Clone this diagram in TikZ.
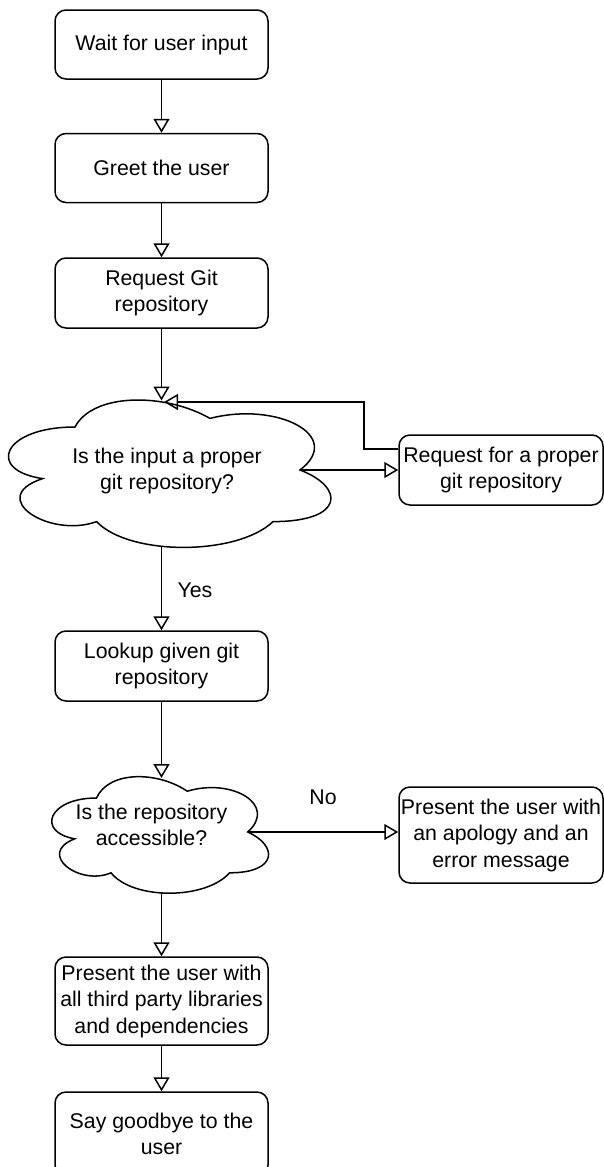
\documentclass[tikz,border=0pt]{standalone}
\usepackage{fontspec}
\setmainfont{Liberation Sans}
\usetikzlibrary{arrows.meta}

% mxGraph-style cloud outline: #1,#2 = top-left corner, #3 = width, #4 = height
\newcommand\cloudoutline[4]{%
  \draw[cloudline]
    ({#1+0.25*#3},{#2+0.25*#4})
    .. controls ({#1+0.05*#3},{#2+0.25*#4}) and ({#1},{#2+0.5*#4}) .. ({#1+0.16*#3},{#2+0.55*#4})
    .. controls ({#1},{#2+0.66*#4}) and ({#1+0.18*#3},{#2+0.9*#4}) .. ({#1+0.31*#3},{#2+0.8*#4})
    .. controls ({#1+0.4*#3},{#2+#4}) and ({#1+0.7*#3},{#2+#4}) .. ({#1+0.8*#3},{#2+0.8*#4})
    .. controls ({#1+#3},{#2+0.8*#4}) and ({#1+#3},{#2+0.6*#4}) .. ({#1+0.875*#3},{#2+0.5*#4})
    .. controls ({#1+#3},{#2+0.3*#4}) and ({#1+0.81*#3},{#2+0.1*#4}) .. ({#1+0.625*#3},{#2+0.2*#4})
    .. controls ({#1+0.5*#3},{#2+0.05*#4}) and ({#1+0.3*#3},{#2+0.05*#4}) .. cycle;}

\begin{document}
\begin{tikzpicture}[x=1pt,y=-1pt,
  txt/.style={font=\fontsize{21.3}{26.5}\selectfont, align=center, inner sep=0pt},
  box/.style={txt, draw, line width=1.5pt, rounded corners=11pt,
              minimum width=213pt, minimum height=#1},
  sidebox/.style={txt, draw, line width=1.5pt, rounded corners=11pt,
              minimum width=204pt, minimum height=#1},
  cloudline/.style={draw, line width=1.5pt},
  flow/.style={draw, line width=1.5pt,
               -{Triangle[open, length=14pt, width=16pt]}}]

\useasboundingbox (0,0) rectangle (603,1167);

% main column of steps
\node[box=69pt] (wait)   at (161.5,44.5)  {Wait for user input};
\node[box=69pt] (greet)  at (161.5,168)   {Greet the user};
\node[box=70pt] (askgit) at (161.5,293)   {Request Git\\repository};
\node[box=70pt] (lookup) at (161.5,666)   {Lookup given git\\repository};
\node[box=88pt] (libs)   at (161.5,1001)  {Present the user with\\all third party libraries\\and dependencies};
\node[box=84pt] (bye)    at (161.5,1134)  {Say goodbye to the\\user};

% side branches
\node[sidebox=70pt] (retry) at (501,470) {Request for a proper\\git repository};
\node[sidebox=96pt] (sorry) at (501,835) {Present the user with\\an apology and an\\error message};

% decision clouds
\cloudoutline{-15}{384}{360}{172}
\node[txt] (qgit) at (167,471) {Is the input a proper\\git repository?};
\coordinate (q1top)  at (161.5,400.5);
\coordinate (q1bot)  at (161.5,546.5);
\coordinate (q1east) at (300,470);
\coordinate (q1back) at (164,402);
\coordinate (turn)   at (364,402);

\cloudoutline{36}{764}{242}{136}
\node[txt] (qacc) at (151.5,825) {Is the repository\\accessible?};
\coordinate (q2top)  at (161.5,778);
\coordinate (q2bot)  at (161.5,892);
\coordinate (q2east) at (247.8,832);

% connectors
\draw[flow] (wait) -- (greet);
\draw[flow] (greet) -- (askgit);
\draw[flow] (askgit) -- (q1top);
\draw[flow] (q1east) -- (q1east -| retry.west);
\draw[flow] ([yshift=21pt]retry.west) -| (turn) -- (q1back);
\draw[flow] (q1bot) -- (lookup);
\draw[flow] (lookup) -- (q2top);
\draw[flow] (q2east) -- (q2east -| sorry.west);
\draw[flow] (q2bot) -- (libs);
\draw[flow] (libs) -- (bye);

% branch labels
\node[txt] (yes) at (195,590) {Yes};
\node[txt] (no)  at (323,797) {No};
\end{tikzpicture}
\end{document}
